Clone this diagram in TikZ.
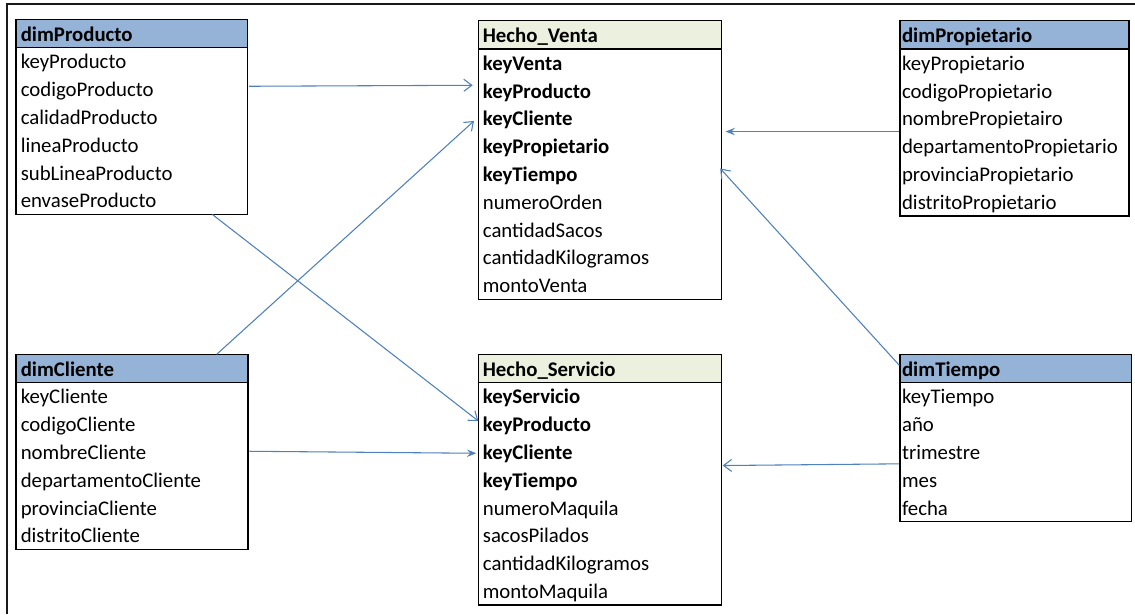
\documentclass[tikz,border=0pt]{standalone}
\usepackage{fontspec}
\setmainfont{Carlito}
\usetikzlibrary{arrows.meta,calc,fit}

\definecolor{dimhead}{RGB}{149,179,215}
\definecolor{facthead}{RGB}{235,241,222}
\definecolor{linkblue}{RGB}{79,129,189}

% \ertable{name}{x}{y top}{width}{header colour}{title}{rows}{left padding}
\newcommand{\ertable}[8]{%
  \pgfmathsetlengthmacro\ertw{(#4-2*#8)*0.75pt}%
  \pgfmathsetlengthmacro\erpad{#8*0.75pt}%
  \node[cellbox, inner xsep=\erpad, fill=#5, minimum width=#4*0.75pt, text width=\ertw,
        anchor=north west] (#1) at (#2,#3) {\bfseries #6};
  \foreach \txt [count=\i] in {#7} {
    \node[cellbox, inner xsep=\erpad, minimum width=#4*0.75pt, text width=\ertw,
          anchor=north west] (#1-\i) at ($(#2,#3)+(0,\i*27.8)$) {\txt};
    \xdef\ernrows{\i}
  }
  \node[fit=(#1)(#1-\ernrows), inner sep=0pt, outer sep=0pt, draw, boxline] (#1-box) {};
  \draw[boxline] (#1.south west) -- (#1.south east);
}

\begin{document}
\begin{tikzpicture}[x=0.75pt,y=-0.75pt,
  every node/.style={font=\fontsize{15.6pt}{18pt}\selectfont},
  cellbox/.style={rectangle, inner ysep=0pt,
    minimum height=20.85pt, text height=13.2pt, text depth=1.8pt, align=left},
  boxline/.style={line width=1.1pt, black},
  link/.style={linkblue, line width=0.8pt},
  openhead/.style={-{Straight Barb[length=6pt,width=9pt]}},
  solidhead/.style={-{Stealth[length=7pt,width=5.5pt,inset=2.5pt]}}]

\fill[white] (0,0) rectangle (1135,614);
\useasboundingbox (0,0) rectangle (1135,614);

% outer frame
\draw[line width=1.5pt, black!90] (6.5,614) -- (6.5,4) -- (1135,4);

% tables
\ertable{dp}{16}{19.3}{231}{dimhead}{dimProducto}{keyProducto,codigoProducto,calidadProducto,lineaProducto,subLineaProducto,envaseProducto}{4.5}
\ertable{hv}{478.3}{20.7}{242.4}{facthead}{Hecho\_Venta}{\textbf{keyVenta},\textbf{keyProducto},\textbf{keyCliente},\textbf{keyPropietario},\textbf{keyTiempo},numeroOrden,cantidadSacos,cantidadKilogramos,montoVenta}{4.3}
\ertable{dpr}{900}{20.7}{228.3}{dimhead}{dimPropietario}{keyPropietario,codigoPropietario,nombrePropietairo,departamentoPropietario,provinciaPropietario,distritoPropietario}{1.8}
\ertable{dc}{16}{354.3}{231.3}{dimhead}{dimCliente}{keyCliente,codigoCliente,nombreCliente,departamentoCliente,provinciaCliente,distritoCliente}{4.5}
\ertable{hs}{478.3}{354.3}{242.4}{facthead}{Hecho\_Servicio}{\textbf{keyServicio},\textbf{keyProducto},\textbf{keyCliente},\textbf{keyTiempo},numeroMaquila,sacosPilados,cantidadKilogramos,montoMaquila}{4.3}
\ertable{dt}{900}{354.3}{231}{dimhead}{dimTiempo}{keyTiempo,año,trimestre,mes,fecha}{1.8}

% relationships
\draw[link,openhead]  ($(dp-2.east)+(1.5,-2.8)$) -- ($(hv-2.west)+(-5.6,-5.2)$);
\draw[link,openhead]  ($(dc-box.north west)+(200.7,0)$) -- ($(hv-3.west)+(-4.3,2.7)$);
\draw[link,openhead]  ($(dp-box.south west)+(196.3,0)$) -- ($(hs-2.west)+(0,-3.1)$);
\draw[link,solidhead] ($(dc-3.east)+(1.5,-0.6)$) -- ($(hs-3.west)+(-2,1.4)$);
\draw[link,solidhead] ($(dpr-3.south west)+(-1,-0.9)$) -- ($(hv-3.south east)+(4.3,-0.9)$);
\draw[link,openhead]  ($(dt.west)+(-0.7,-3.2)$) -- ($(hv-5.east)+(-1,-5.4)$);
\draw[link,openhead]  ($(dt-3.south west)+(-1,-2.2)$) -- ($(hs-3.south east)+(1.5,-0.5)$);
\end{tikzpicture}
\end{document}
